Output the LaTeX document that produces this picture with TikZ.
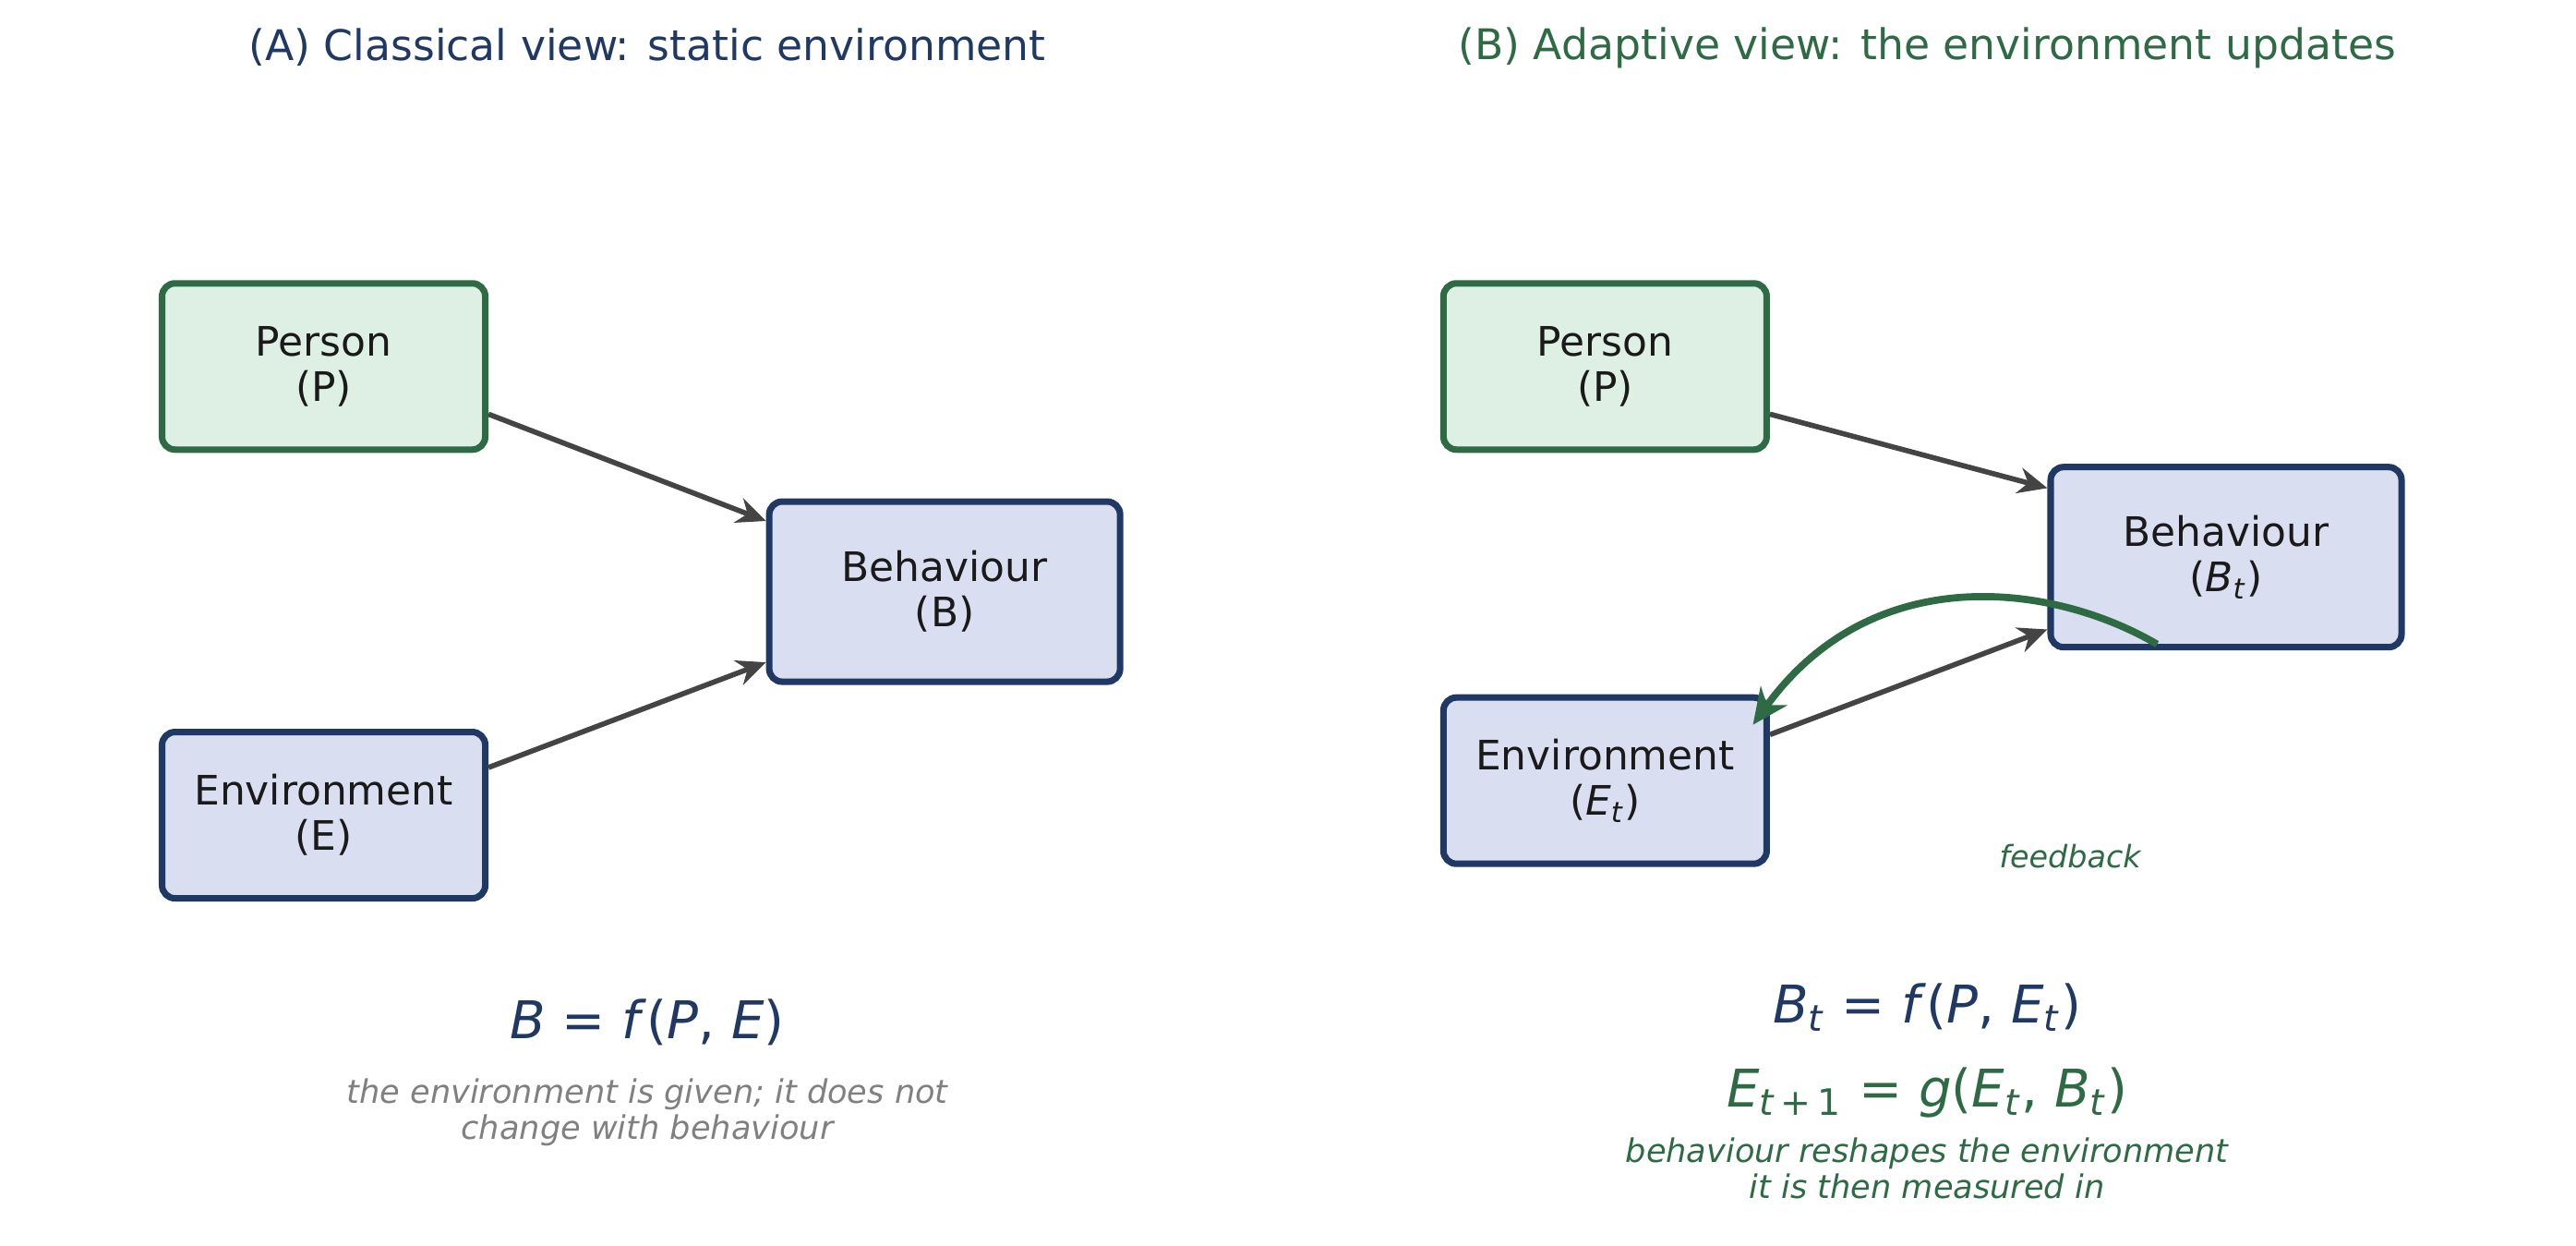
\documentclass[tikz,border=0pt]{standalone}
\usepackage{fontspec}
\setmainfont{DejaVu Sans}
\usetikzlibrary{positioning}
\usetikzlibrary{arrows.meta}
\definecolor{navy}{HTML}{1F3864}
\definecolor{leaf}{HTML}{2E6B45}
\definecolor{leaffill}{HTML}{DEEFE3}
\definecolor{navyfill}{HTML}{D9DEF0}
\definecolor{ink}{HTML}{444444}
\definecolor{txt}{HTML}{1A1A1A}
\tikzset{
  person/.style={draw=leaf, fill=leaffill, line width=2pt, rounded corners=4pt, minimum width=3.5cm, minimum height=1.8cm, align=center, text=txt, font=\fontsize{12.5}{14}\selectfont},
  other/.style={person, draw=navy, fill=navyfill},
  link/.style={-{Stealth[length=9pt,width=8pt]}, draw=ink, line width=1.6pt},
  title/.style={font=\fontsize{13}{15}\selectfont},
  formula/.style={font=\fontsize{16}{18}\selectfont},
  caption/.style={font=\fontsize{10}{11}\selectfont\itshape, align=center}
}
\newcommand{\mi}[1]{\textit{#1}}
\begin{document}
\begin{tikzpicture}[x=0.01779cm, y=-0.01779cm]
    \useasboundingbox (0,0) rectangle (1568,758);
    % left panel
    \node[title, text=navy] (titleA) at (394,29) {(A) Classical view: static environment};
    \node[person] (personA) at (197,223) {Person\\(P)};
    \node[other, minimum width=3.8cm, minimum height=1.95cm] (behavA) at (575,360) {Behaviour\\(B)};
    \node[other] (envA) at (197,496) {Environment\\(E)};
    \draw[link] (personA.east |- 0,252) -- (behavA.west |- 0,317);
    \draw[link] (envA.east |- 0,467) -- (behavA.west |- 0,403);
    \node[formula, text=navy] (lawA) at (394,622) {\mi{B} = \mi{f}(\mi{P}, \mi{E})};
    \node[caption, text=gray] (noteA) at (394,677) {the environment is given; it does not\\change with behaviour};
    % right panel
    \node[title, text=leaf] (titleB) at (1173,29) {(B) Adaptive view: the environment updates};
    \node[person] (personB) at (977,223) {Person\\(P)};
    \node[other, minimum width=3.8cm, minimum height=1.95cm] (behavB) at (1355,339) {Behaviour\\(\mi{B}\textsubscript{\mi{t}})};
    \node[other] (envB) at (977,475) {Environment\\(\mi{E}\textsubscript{\mi{t}})};
    \draw[link] (personB.east |- 0,252) -- (behavB.west |- 0,297);
    \draw[link] (envB.east |- 0,447) -- (behavB.west |- 0,383);
    \coordinate (fbstart) at (1313,392);
    \coordinate (fbend) at (1067,441);
    \draw[-{Stealth[length=11pt,width=10pt]}, draw=leaf, line width=2.2pt] (fbstart) .. controls (1250,355) and (1140,340) .. (fbend);
    \node[font=\fontsize{9.5}{11}\selectfont\itshape, text=leaf] (fbtext) at (1260,521) {feedback};
    \node[formula, text=navy] (lawB) at (1173,613) {\mi{B}\textsubscript{\mi{t}} = \mi{f}(\mi{P}, \mi{E}\textsubscript{\mi{t}})};
    \node[formula, text=leaf] (lawE) at (1173,665) {\mi{E}\textsubscript{\mi{t}\,+\,1} = \mi{g}(\mi{E}\textsubscript{\mi{t}}, \mi{B}\textsubscript{\mi{t}})};
    \node[caption, text=leaf] (noteB) at (1173,711) {behaviour reshapes the environment\\it is then measured in};
\end{tikzpicture}
\end{document}
